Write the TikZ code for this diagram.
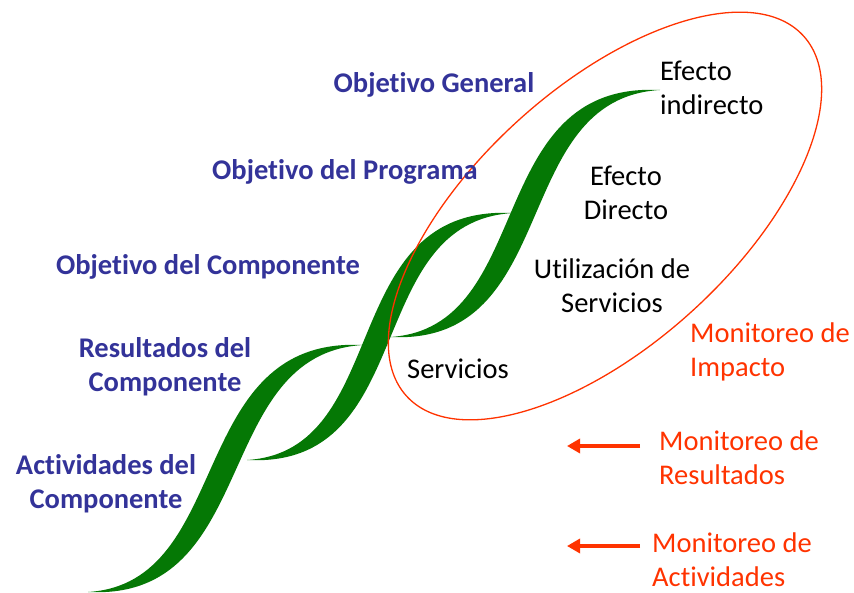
\documentclass[tikz,border=0pt]{standalone}
\usepackage{fontspec}
\setmainfont{Carlito}[Ligatures=NoCommon]
\usetikzlibrary{arrows.meta}
\definecolor{leafgreen}{RGB}{5,120,5}
\definecolor{objblue}{RGB}{51,51,153}
\definecolor{monred}{RGB}{255,51,0}
\newcommand\leafA{160}
\newcommand\leafB{165}
\newcommand\leafD{13}
\newcommand\leafE{9}
\newcommand\leafshape[4]{%
  \fill[leafgreen] (#1,#2) .. controls ({#1+\leafA+\leafD},{#2+\leafE}) and ({#3-\leafB+\leafD},{#4+\leafE}) .. (#3,#4)
    .. controls ({#3-\leafB-\leafD},{#4-\leafE}) and ({#1+\leafA-\leafD},{#2-\leafE}) .. cycle;}
\begin{document}
\begin{tikzpicture}[x=1pt,y=-1pt,
  objtext/.style={text=objblue,font=\fontsize{28.5}{34}\selectfont\bfseries,align=center,inner sep=0pt},
  blacktext/.style={text=black,font=\fontsize{28.5}{34}\selectfont,align=center,inner sep=0pt},
  montext/.style={text=monred,font=\fontsize{28.5}{34}\selectfont,align=left,inner sep=0pt,anchor=west},
  monarrow/.style={draw=monred,line width=4pt,-{Triangle[length=13pt,width=14pt]}}]
\useasboundingbox[fill=white] (0,0) rectangle (854,593);
% leaves
\leafshape{88}{592}{363}{345}
\leafshape{247}{460}{513}{213}
\leafshape{390}{337}{660}{90}
% ellipse
\draw[monred,line width=1.3pt,rotate around={42.2:(605,216)}] (605,216) ellipse [x radius=268pt,y radius=129pt];
% texts
\node[objtext] (og) at (434,85) {Objetivo General};
\node[objtext] (op) at (345,172) {Objetivo del Programa};
\node[objtext] (oc) at (208,267) {Objetivo del Componente};
\node[objtext] (rc) at (165,367) {Resultados del\\Componente};
\node[objtext] (ac) at (106,484) {Actividades del\\Componente};
\node[blacktext,align=left,anchor=west] (ei) at (660,88) {Efecto\\indirecto};
\node[blacktext] (ed) at (626,193) {Efecto\\Directo};
\node[blacktext] (us) at (612,286) {Utilización de\\Servicios};
\node[blacktext] (sv) at (458,369) {Servicios};
\node[montext] (mi) at (690,352) {Monitoreo de\\Impacto};
\node[montext] (mr) at (659,458) {Monitoreo de\\Resultados};
\node[montext] (ma) at (652,560) {Monitoreo de\\Actividades};
% arrows
\coordinate (r1s) at (640,446);
\coordinate (r1e) at (567,446);
\coordinate (r2s) at (640,546);
\coordinate (r2e) at (567,546);
\draw[monarrow] (r1s) -- (r1e);
\draw[monarrow] (r2s) -- (r2e);
\end{tikzpicture}
\end{document}
